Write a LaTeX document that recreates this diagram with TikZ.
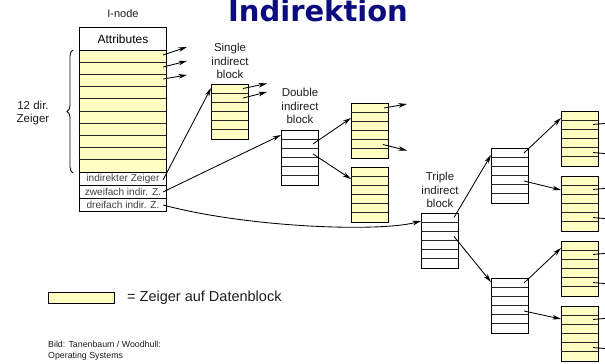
\documentclass[tikz,border=0pt]{standalone}
\usepackage{fontspec}
\setmainfont{Liberation Sans}
\newfontfamily\titlefont{DejaVu Sans}
\usetikzlibrary{arrows.meta,calc,decorations.pathreplacing}
\definecolor{ptrfill}{RGB}{255,255,196}
\definecolor{titleblue}{RGB}{12,12,128}
\definecolor{txt}{RGB}{30,30,30}
\newcommand\mkblock[4]{%
  \node[blk,fill=#4] (#1) at (#2,#3) {};
  \foreach \k in {1,...,5}{\draw[rowline] ($(#1.north west)+(0,\k*55/6)$) -- ++(37,0);}
}
\begin{document}
\begin{tikzpicture}[x=1pt,y=-1pt,
  blk/.style={draw=black,line width=0.9pt,inner sep=0pt,minimum width=37pt,minimum height=55pt,anchor=north west},
  rowline/.style={line width=0.75pt,draw=black!85},
  inbox/.style={draw=black,line width=0.9pt,inner sep=0pt,minimum width=87pt,anchor=north west},
  ptr/.style={line width=0.85pt,-{Stealth[length=8.5pt,width=4.6pt,inset=2.5pt]}},
  lbl/.style={font=\fontsize{11.5}{13.5}\selectfont,align=center,text=txt},
  rowtxt/.style={font=\fontsize{10.1}{11}\selectfont,text=black!75},
]
\clip (0,0) rectangle (605,364);
\fill[white] (0,0) rectangle (605,364);

% title
\node[font=\titlefont\bfseries\fontsize{29}{30}\selectfont,text=titleblue,anchor=base] (title) at (318,21) {Indirektion};

% I-node
\node[lbl,font=\fontsize{11}{13}\selectfont] (inodelbl) at (123,14) {I-node};
\node[inbox,minimum height=23pt,font=\fontsize{12}{14}\selectfont] (attr) at (79,27) {Attributes};
\node[inbox,minimum height=122pt,fill=ptrfill] (direct) at (79,50) {};
\foreach \k in {1,...,9}{\draw[rowline] ($(direct.north west)+(0,\k*12.2)$) -- ++(87,0);}
\node[inbox,minimum height=13pt,rowtxt] (ind1) at (79,172) {indirekter Zeiger};
\node[inbox,minimum height=13pt,rowtxt] (ind2) at (79,185) {zweifach indir. Z.};
\node[inbox,minimum height=12.5pt,rowtxt] (ind3) at (79,198) {dreifach indir. Z.};

% brace
\draw[line width=0.8pt,decorate,decoration={brace,amplitude=6pt,mirror}] (73,50) -- (73,173);
\node[lbl,font=\fontsize{11.5}{13}\selectfont] (zlbl) at (33,113) {12 dir.\\Zeiger};

% direct pointers
\coordinate (d1) at (163,55); \coordinate (d1e) at (187,47);
\coordinate (d2) at (163,67); \coordinate (d2e) at (187,61);
\coordinate (d3) at (163,79); \coordinate (d3e) at (187,75);
\draw[ptr] (d1) -- (d1e);
\draw[ptr] (d2) -- (d2e);
\draw[ptr] (d3) -- (d3e);

% blocks
\mkblock{single}{211}{84}{ptrfill}
\mkblock{double}{281}{130}{white}
\mkblock{yA}{351}{103}{ptrfill}
\mkblock{yB}{351}{167}{ptrfill}
\mkblock{triple}{421}{213}{white}
\mkblock{wA}{491}{148}{white}
\mkblock{wB}{491}{278}{white}
\mkblock{cA}{561}{111}{ptrfill}
\mkblock{cB}{561}{176}{ptrfill}
\mkblock{cC}{561}{241}{ptrfill}
\mkblock{cD}{561}{306}{ptrfill}

% labels
\node[lbl] (slbl) at (230,61) {Single\\indirect\\block};
\node[lbl] (dlbl) at (300,106) {Double\\indirect\\block};
\node[lbl] (tlbl) at (440,190) {Triple\\indirect\\block};

% indirect pointers from i-node
\coordinate (p1) at (163,180);
\coordinate (p2) at (163,192);
\coordinate (p3) at (163,205);
\draw[ptr] (p1) -- ($(single.north west)+(0,4)$);
\draw[ptr] (p2) -- ($(double.north west)+(0,5)$);
\draw[ptr] (p3) .. controls (250,228) and (380,232) .. ($(triple.north west)+(0,8)$);

% single block pointers
\draw[ptr] ($(single.north west)+(32,4.5)$) -- ++(24,-5);
\draw[ptr] ($(single.north west)+(32,14)$) -- ++(24,-6);

% double block pointers
\draw[ptr] ($(double.north west)+(32,14)$) -- ($(yA.north west)+(0,15)$);
\draw[ptr] ($(double.north west)+(32,24)$) -- ($(yB.north west)+(0,12)$);

% yA pointers
\draw[ptr] ($(yA.north west)+(33,5)$) -- ++(23,-4);
\draw[ptr] ($(yA.north west)+(32,41.5)$) -- ++(24,6);

% triple pointers
\draw[ptr] ($(triple.north west)+(33,4.5)$) -- ($(wA.north west)+(0,7)$);
\draw[ptr] ($(triple.north west)+(33,23.5)$) -- ($(wB.north west)+(0,4)$);

% second level pointers
\draw[ptr] ($(wA.north west)+(33,5)$) -- ($(cA.north west)+(0,7)$);
\draw[ptr] ($(wA.north west)+(33,33)$) -- ($(cB.north west)+(0,14)$);
\draw[ptr] ($(wB.north west)+(33,5)$) -- ($(cC.north west)+(0,7)$);
\draw[ptr] ($(wB.north west)+(33,33)$) -- ($(cD.north west)+(0,13)$);

% pointers leaving the picture
\foreach \b in {cA,cB,cC,cD}{
  \draw[ptr] ($(\b.north west)+(32,13.5)$) -- ++(22,-2);
  \draw[ptr] ($(\b.north west)+(32,41.5)$) -- ++(22,2);
}

% legend
\node[draw=black,line width=0.9pt,fill=ptrfill,minimum width=66pt,minimum height=11pt,inner sep=0pt,anchor=north west] (legend) at (48,292) {};
\node[anchor=west,font=\fontsize{14.5}{17}\selectfont,text=txt,inner sep=0pt] (legtxt) at (127,297.5) {= Zeiger auf Datenblock};

% credit
\node[anchor=north west,align=left,font=\fontsize{8.8}{11}\selectfont,text=txt,inner sep=0pt] (credit) at (48,341) {Bild: Tanenbaum / Woodhull:\\Operating Systems};
\end{tikzpicture}
\end{document}
